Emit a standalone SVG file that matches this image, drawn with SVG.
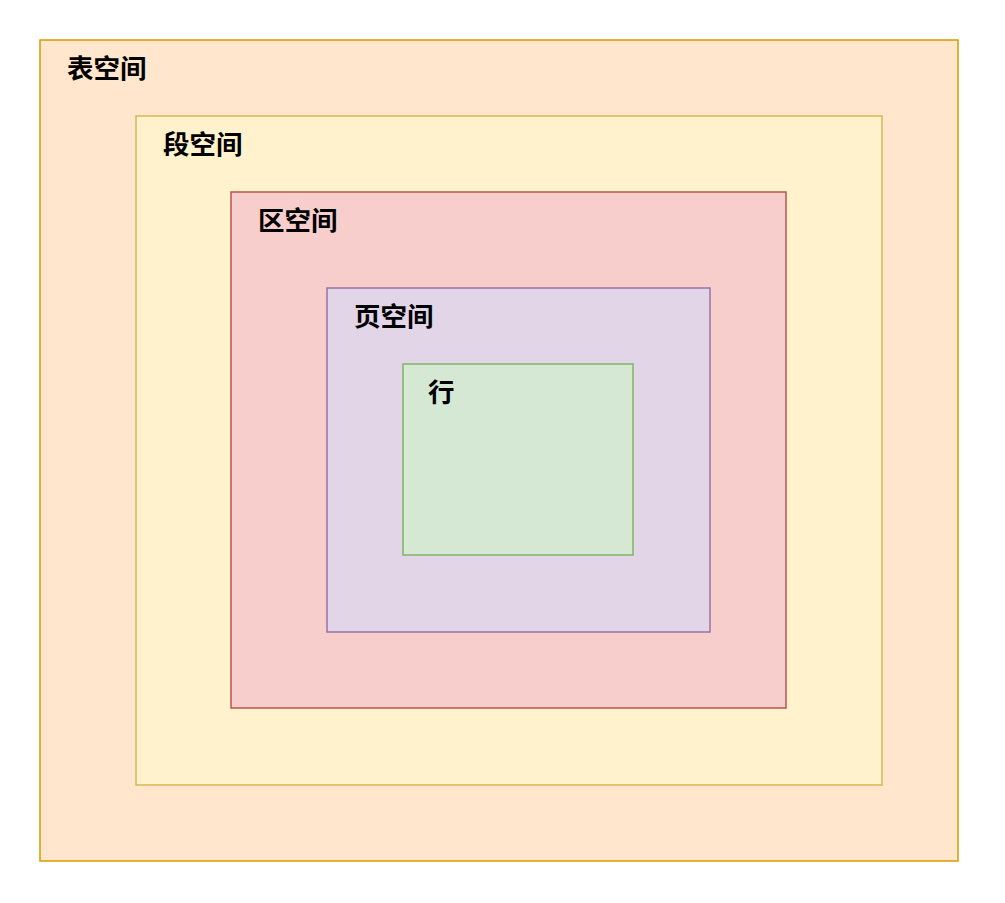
<svg xmlns="http://www.w3.org/2000/svg" width="1005" height="903" viewBox="0 0 1005 903">
<style>
.lbl{font-family:"Noto Sans CJK SC","Liberation Sans",sans-serif;font-size:26.5px;font-weight:bold;fill:#000}
rect{stroke-width:1.5}
</style>
<rect width="1005" height="903" fill="#ffffff"/>
<g id="table-space"><rect x="40" y="40" width="918" height="821" fill="#ffe6cc" stroke="#d79b00"/><text class="lbl" x="67" y="78">表空间</text></g>
<g id="segment-space"><rect x="136" y="116" width="746" height="669" fill="#fff2cc" stroke="#d6b656"/><text class="lbl" x="163" y="154">段空间</text></g>
<g id="extent-space"><rect x="231" y="192" width="555" height="516" fill="#f8cecc" stroke="#b85450"/><text class="lbl" x="258" y="230">区空间</text></g>
<g id="page-space"><rect x="327" y="288" width="383" height="344" fill="#e1d5e7" stroke="#9673a6"/><text class="lbl" x="354" y="326">页空间</text></g>
<g id="row"><rect x="403" y="364" width="230" height="191" fill="#d5e8d4" stroke="#82b366"/><text class="lbl" x="428" y="402">行</text></g>
<g id="connectors"></g>
</svg>
